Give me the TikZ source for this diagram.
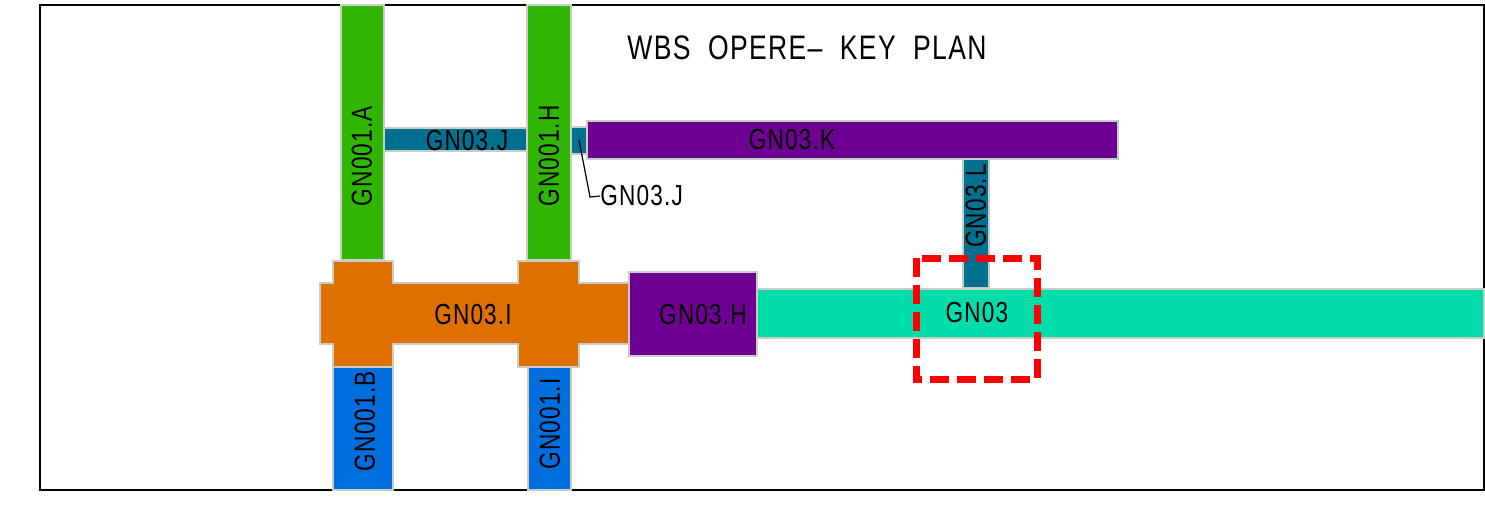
\documentclass[tikz,border=0pt]{standalone}
\usepackage{fontspec}
\usepackage{tikz}
\setmainfont{Liberation Sans}[FakeStretch=0.78,LetterSpace=4]
\definecolor{wbsgreen}{RGB}{48,182,0}
\definecolor{wbsteal}{RGB}{0,112,145}
\definecolor{wbspurple}{RGB}{110,0,145}
\definecolor{wbsorange}{RGB}{222,112,0}
\definecolor{wbsblue}{RGB}{0,110,220}
\definecolor{wbsmint}{RGB}{0,220,170}
\definecolor{wbsedge}{RGB}{200,205,200}
\tikzset{
  bar/.style={fill=#1,draw=wbsedge,line width=0.6pt},
  lbl/.style={inner sep=0pt,font=\fontsize{14.5}{15}\selectfont},
}

\begin{document}
\begin{tikzpicture}[x=0.5pt,y=-0.5pt]
\useasboundingbox (0,0) rectangle (1485,509);
\draw [line width=0.8pt] (40,5) rectangle (1484,490);
\node [inner sep=0pt,font=\fontsize{17}{18}\selectfont] (title) at (807,48) {WBS\ \ OPERE--\ \ KEY\ \ PLAN};
% corridoio principale
\path [bar=wbsorange] (333,261) -- (393,261) -- (393,283) -- (518,283) -- (518,261) -- (579,261) -- (579,283) -- (629,283)
  -- (629,344) -- (579,344) -- (579,367) -- (518,367) -- (518,344) -- (393,344) -- (393,367) -- (333,367) -- (333,344)
  -- (320,344) -- (320,283) -- (333,283) -- cycle;
\path [bar=wbsgreen] (341,5) rectangle (384,260);
\path [bar=wbsgreen] (527,5) rectangle (571,260);
\path [bar=wbsteal] (384,128) rectangle (527,151);
\path [bar=wbsteal] (571,127) rectangle (587,154);
\path [bar=wbspurple] (587,121) rectangle (1118,159);
\path [bar=wbsteal] (963,159) rectangle (989,288);
\path [bar=wbsblue] (333,367) rectangle (393,490);
\path [bar=wbsblue] (528,367) rectangle (571,490);
\path [bar=wbspurple] (629,272) rectangle (757,356);
\path [bar=wbsmint] (757,289) rectangle (1484,338);
% etichette
\node [lbl,rotate=90] (gn001a) at (362,156) {GN001.A};
\node [lbl,rotate=90] (gn001h) at (549,156) {GN001.H};
\node [lbl] (gn03j) at (467,141) {GN03.J};
\node [lbl] (gn03k) at (792,140) {GN03.K};
\node [lbl,rotate=90] (gn03l) at (976,206) {GN03.L};
\node [lbl] (gn03i) at (473,315) {GN03.I};
\node [lbl] (gn03h) at (703,315) {GN03.H};
\node [lbl] (gn03) at (977,313) {GN03};
\node [lbl,rotate=90] (gn001b) at (365,421) {GN001.B};
\node [lbl,rotate=90] (gn001i) at (550,424) {GN001.I};
\coordinate (jsq) at (579,140);
\coordinate (jbend) at (590,197);
\node [lbl,anchor=west] (gn03jb) at (600,196) {GN03.J};
\draw [line width=0.6pt] (jsq) -- (jbend) -- (gn03jb.west);
% area di interesse
\draw [red,line width=3.5pt,dash pattern=on 9.5pt off 4pt] (916,258) rectangle (1037,379);
\end{tikzpicture}
\end{document}
